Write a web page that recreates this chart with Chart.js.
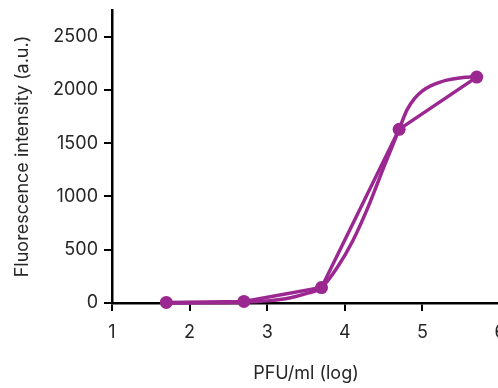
<!DOCTYPE html>
<html>
<head>
<meta charset="utf-8">
<script src="https://cdn.jsdelivr.net/npm/chart.js@4/dist/chart.umd.min.js"></script>
<style>
  html, body { margin: 0; padding: 0; background: #fff; overflow: hidden; }
  #wrap { width: 510px; height: 388px; }
</style>
</head>
<body>
<div id="wrap"><canvas id="myChart" width="510" height="388"></canvas></div>
<script>
// measured points
const logPfu = [1.7, 2.7, 3.7, 4.7, 5.7];
const intensity = [5, 15, 145, 1630, 2120];

// fitted curve
const fitX = [1.7, 2.2, 2.7, 3.0, 3.3, 3.5, 3.7, 3.9, 4.1, 4.3, 4.5, 4.7, 4.8, 4.9, 5.0, 5.1, 5.2, 5.3, 5.5, 5.7];
const fitY = [0, 2, 8, 20, 50, 88, 145, 330, 580, 900, 1270, 1630, 1810, 1920, 1990, 2035, 2065, 2090, 2115, 2122];

const xTicks = [1, 2, 3, 4, 5, 6];
const yTicks = [0, 500, 1000, 1500, 2000, 2500];

const purple = "#9b2790";
const fontFamily = "Inter, 'Liberation Sans', sans-serif";
const textColor = "#262626";

const toPoints = (xs, ys) => xs.map((x, i) => ({ x: x, y: ys[i] }));

new Chart(document.getElementById("myChart").getContext("2d"), {
  type: "scatter",
  data: {
    datasets: [
      {
        label: "Measured",
        data: toPoints(logPfu, intensity),
        showLine: true,
        tension: 0,
        borderColor: purple,
        backgroundColor: purple,
        borderWidth: 3.5,
        pointRadius: 6.5,
        pointBorderWidth: 0,
        clip: false,
        order: 1
      },
      {
        label: "Fit",
        data: toPoints(fitX, fitY),
        showLine: true,
        cubicInterpolationMode: "monotone",
        borderColor: purple,
        borderWidth: 3.5,
        pointRadius: 0,
        clip: false,
        order: 2
      }
    ]
  },
  options: {
    responsive: false,
    animation: false,
    layout: { padding: { top: 10, right: 10, left: 0, bottom: 0 } },
    plugins: {
      legend: { display: false },
      tooltip: { enabled: false }
    },
    scales: {
      x: {
        type: "linear",
        min: 1,
        max: 6,
        afterBuildTicks: (scale) => { scale.ticks = xTicks.map(v => ({ value: v })); },
        afterFit: (scale) => { scale.height = 85; scale.paddingLeft = 0; scale.paddingRight = 0; },
        border: { display: true, color: "#000", width: 2.5 },
        grid: { display: true, drawOnChartArea: false, drawTicks: true, tickLength: 8, color: "#000", lineWidth: 2 },
        ticks: { color: textColor, font: { family: fontFamily, size: 18 }, padding: 11, callback: (v) => String(v) },
        title: {
          display: true,
          text: "PFU/ml (log)",
          color: textColor,
          font: { family: fontFamily, size: 18 },
          padding: { top: 24 }
        }
      },
      y: {
        type: "linear",
        min: 0,
        max: 2750,
        afterBuildTicks: (scale) => { scale.ticks = yTicks.map(v => ({ value: v })); },
        afterFit: (scale) => { scale.width = 112; scale.paddingTop = 0; scale.paddingBottom = 0; },
        border: { display: true, color: "#000", width: 2.5 },
        grid: { display: true, drawOnChartArea: false, drawTicks: true, tickLength: 8, color: "#000", lineWidth: 2 },
        ticks: { color: textColor, font: { family: fontFamily, size: 18 }, padding: 6, callback: (v) => String(v) },
        title: {
          display: true,
          text: "Fluorescence intensity (a.u.)",
          color: textColor,
          font: { family: fontFamily, size: 18 },
          padding: { top: 12, bottom: 4 }
        }
      }
    }
  }
});
</script>
</body>
</html>
